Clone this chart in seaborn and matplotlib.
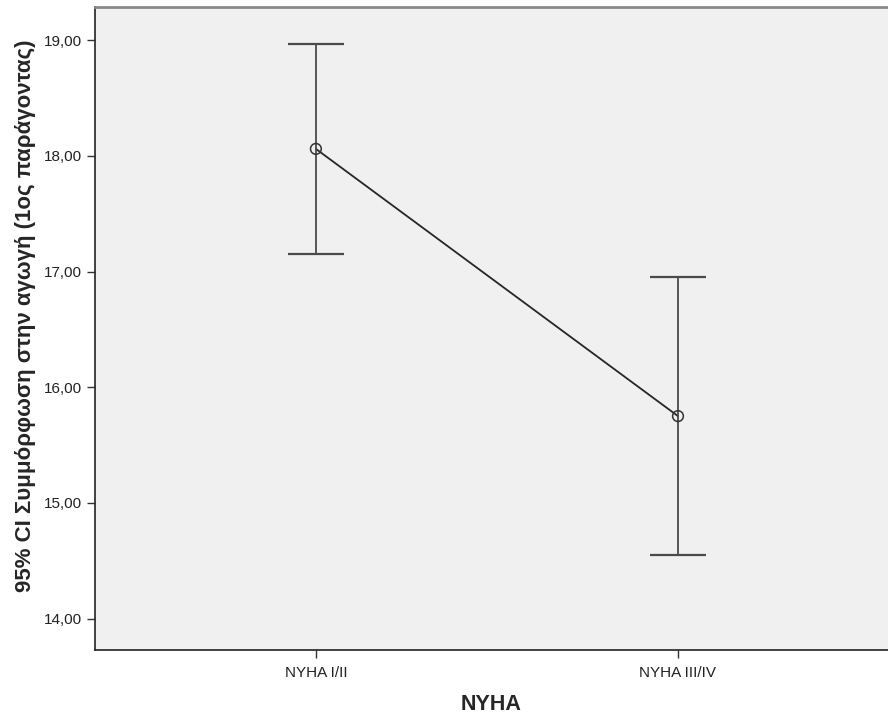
import numpy as np
import pandas as pd
import matplotlib
matplotlib.use("Agg")
import matplotlib.pyplot as plt
import seaborn as sns
from matplotlib.ticker import FuncFormatter

# ===============================
# Data
# ===============================
groups = ["NYHA I/II", "NYHA III/IV"]
means = [18.06, 15.75]
ci_low = [17.15, 14.55]
ci_high = [18.97, 16.95]

y_ticks = [14, 15, 16, 17, 18, 19]

df = pd.DataFrame({"NYHA": groups, "mean": means})

sns.set_theme(style="white")
plt.rcParams["font.family"] = ["Liberation Sans", "DejaVu Sans"]

fig = plt.figure(figsize=(8.88, 7.18), dpi=100)
ax = fig.add_axes([0.107, 0.095, 0.893, 0.895])
ax.set_facecolor("#f0f0f0")

# mean line
sns.lineplot(data=df, x="NYHA", y="mean", ax=ax, color="#262626",
             linewidth=1.3, sort=False)

# confidence intervals
x_pos = np.arange(len(groups))
err = [np.array(means) - np.array(ci_low), np.array(ci_high) - np.array(means)]
ax.errorbar(x_pos, means, yerr=err, fmt="none", ecolor="#4a4a4a",
            elinewidth=1.3, capsize=20, capthick=1.6, zorder=3)

# open circle markers
ax.scatter(x_pos, means, s=60, facecolors="none", edgecolors="#333333",
           linewidths=1.1, zorder=4)

ax.set_xlim(-0.61, 1.58)
ax.set_ylim(13.73, 19.285)
ax.set_xticks(x_pos)
ax.set_xticklabels(groups)
ax.set_yticks(y_ticks)
ax.yaxis.set_major_formatter(FuncFormatter(lambda v, p: f"{v:.2f}".replace(".", ",")))

ax.tick_params(axis="both", which="both", length=6, width=1, color="#333333",
               labelsize=11, labelcolor="#222222", direction="out",
               left=True, bottom=True)
ax.tick_params(axis="x", pad=6)

ax.set_xlabel("NYHA", fontsize=15.5, fontweight="bold", labelpad=10)
ax.set_ylabel("95% CI Συμμόρφωση στην αγωγή (1ος παράγοντας)", fontsize=16,
              fontweight="bold", labelpad=7)
ax.yaxis.set_label_coords(-0.075, 0.52)

for side in ["left", "bottom"]:
    ax.spines[side].set_color("#222222")
    ax.spines[side].set_linewidth(1.2)
ax.spines["top"].set_color("#888888")
ax.spines["top"].set_linewidth(2)
ax.spines["right"].set_visible(False)

fig.savefig("out.png", dpi=100)
